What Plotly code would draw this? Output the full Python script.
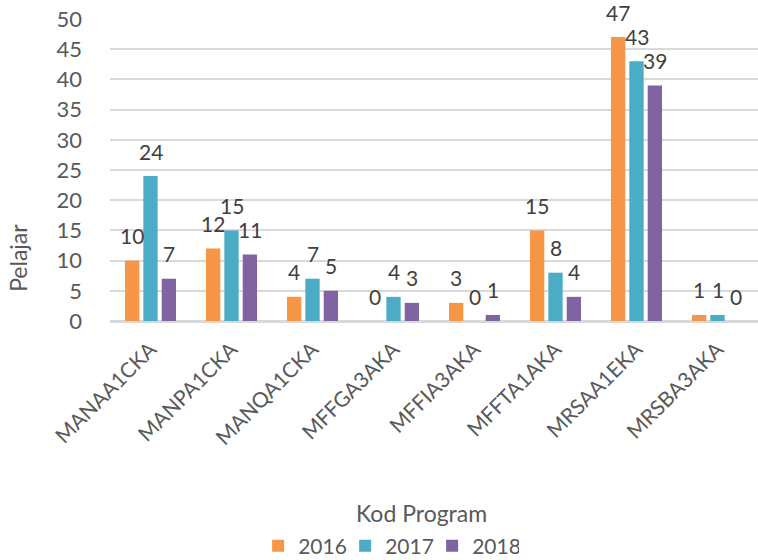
import plotly.graph_objects as go

categories = ["MANAA1CKA", "MANPA1CKA", "MANQA1CKA", "MFFGA3AKA",
              "MFFIA3AKA", "MFFTA1AKA", "MRSAA1EKA", "MRSBA3AKA"]
values_2016 = [10, 12, 4, 0, 3, 15, 47, 1]
values_2017 = [24, 15, 7, 4, 0, 8, 43, 1]
values_2018 = [7, 11, 5, 3, 1, 4, 39, 0]
series_names = ["2016", "2017", "2018"]
colors = ["#F79646", "#4BACC6", "#8064A2"]
y_title = "Pelajar"
x_title = "Kod Program"

FONT = "Lato, Open Sans, sans-serif"
GREY = "#595959"

W, H = 758, 560
L, R, T, B = 110, 0, 19, 239
BARGAP = 0.32
plot_w = W - L - R
slot = plot_w / len(categories) * (1 - BARGAP) / 3

fig = go.Figure()
series = [values_2016, values_2017, values_2018]
for name, vals, col in zip(series_names, series, colors):
    fig.add_trace(go.Bar(
        x=categories, y=vals, name=name,
        marker=dict(color=col, line=dict(width=0)),
        cliponaxis=False,
    ))

annotations = []
for i, vals in enumerate(series):
    for c, v in zip(categories, vals):
        annotations.append(dict(
            x=c, y=v, xref="x", yref="y", text=str(v), showarrow=False,
            xanchor="center", yanchor="middle", xshift=(i - 1) * slot, yshift=25,
            font=dict(size=21, color="#404040", family=FONT)))

annotations += [
    dict(text=y_title, xref="paper", yref="paper", x=-0.142, y=0.209,
         textangle=-90, showarrow=False, xanchor="center", yanchor="middle",
         font=dict(size=23, color=GREY, family=FONT)),
    dict(text=x_title, xref="paper", yref="paper", x=0.481, y=-0.636,
         showarrow=False, xanchor="center", yanchor="middle",
         font=dict(size=23, color=GREY, family=FONT)),
]

fig.update_layout(
    width=W, height=H,
    barmode="group", bargap=BARGAP, bargroupgap=0.22,
    plot_bgcolor="white", paper_bgcolor="white",
    font=dict(family=FONT, color=GREY, size=20),
    margin=dict(l=L, r=R, t=T, b=B, autoexpand=False),
    showlegend=True,
    legend=dict(orientation="h", x=0.43, xanchor="center", y=-0.745, yanchor="middle",
                font=dict(size=21, color=GREY, family=FONT),
                entrywidth=42, entrywidthmode="pixels",
                traceorder="normal", tracegroupgap=0),
    annotations=annotations,
)
fig.update_yaxes(range=[0, 50], dtick=5, showgrid=True, gridcolor="#D9D9D9", gridwidth=1.5,
                 zeroline=True, zerolinecolor="#D9D9D9", zerolinewidth=1.5,
                 tickfont=dict(size=22, color=GREY, family=FONT),
                 ticks="", showline=False, automargin=False, ticklabelstandoff=27,
                 ticklabeloverflow="allow")
fig.update_xaxes(tickangle=-45, tickfont=dict(size=21, color=GREY, family=FONT),
                 showline=True, linecolor="#D9D9D9", linewidth=1.5, ticks="",
                 automargin=False, ticklabelstandoff=6, ticklabeloverflow="allow")

fig.write_html("out.html", config={"displayModeBar": False},
               post_script="document.body.style.margin='0';document.body.style.overflow='hidden';")
